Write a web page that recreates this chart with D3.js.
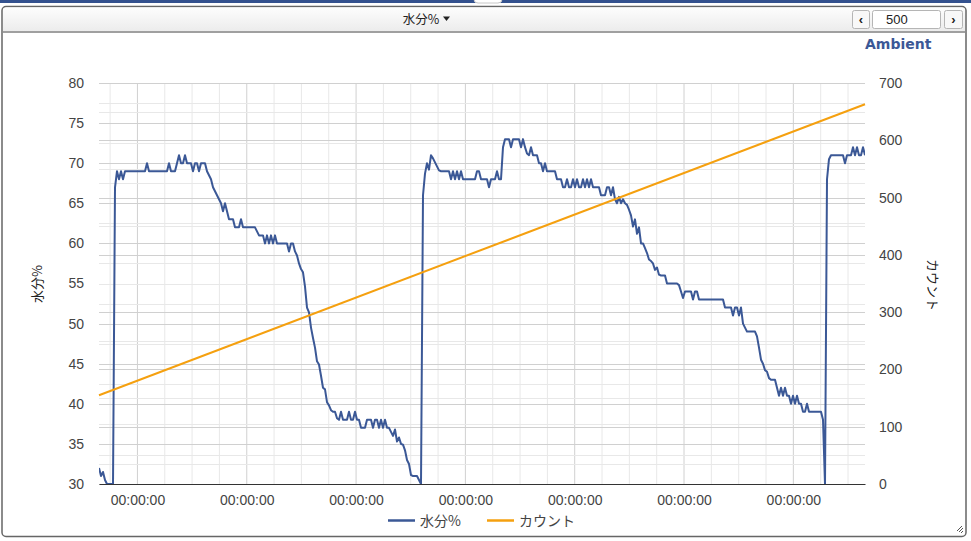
<!DOCTYPE html>
<html><head><meta charset="utf-8">
<script src="https://cdn.jsdelivr.net/npm/d3@7"></script>
<style>
body{margin:0;background:#fff;}
svg{display:block;font-family:"Liberation Sans",Arial,sans-serif;}
</style></head><body>
<svg id="c" width="971" height="541"></svg>
<script>
// ---------- data ----------
const headerTitle = "水分%";
const pageSize = "500";
const panelLabel = "Ambient";
const leftAxisTitle = "水分%";
const rightAxisTitle = "カウント";
const seriesNames = ["水分%", "カウント"];
const xTickLabels = ["00:00:00","00:00:00","00:00:00","00:00:00","00:00:00","00:00:00","00:00:00"];
const leftTicks = [30,35,40,45,50,55,60,65,70,75,80];
const rightTicks = [0,100,200,300,400,500,600,700];
// count series: first and last sample
const countValues = [155, 663];
// moisture series, one value per sample
const moisture = [
 32,31,31.5,30.5,30,30,30,30,
 67,69,68,69,68,69,
 69,69,69,69,69,69,69,69,69,69,
 70,
 69,69,69,69,69,69,69,69,69,69,
 70,
 69,69,69,
 70,71,70,70,71,70,70,70,69,70,70,69,70,70,70,
 69,68.5,68,67,66.5,66,65.5,65,64,65,64,63,63,63,62,
 62,62,63,62,62,62,62,62,62,
 62,61.5,61,61,61,60,61,60,61,60,61,60,60,60,60,60,60,
 59,60,60,59,58.5,57.5,56.8,56.4,54.6,52,51.4,49.5,48.2,47,45.3,44.9,43.5,42,41.8,40.2,39.8,39.2,39,39,
 38.2,38,39,38,38,38,39,38,38,39,38,38,37,37,37,38,38,38,37,38,38,37,38,37,38,37,37,
 36.5,36,36.8,35.3,35.8,35,34.9,34.2,33,32.5,31.1,31,31,31,30.5,30,
 66,68.7,70,69.2,71,70.6,70.1,69.6,69.1,69,
 69,69,69,69,
 68,69,68,69,68,69,68,
 68,68,68,68,68,68,
 69,69,
 68,68,68,
 68,67,68,68,68,69,68,68,
 72,73,73,73,72,73,73,73,73,72,73,72,
 71.2,71,72,71,71,71,70,70,69,70,69,69,69,69,69,68,68,68,
 67,67,68,67,67,68,67,68,67,67,68,67,68,67,68,67,67,67,67,
 66,66,66,67,67,66,67,65.5,65,65.8,65,65.5,65,64.8,64.2,63.5,
 62.1,63,61.2,62,60,60,59.4,58.8,58,57.8,57.5,56.7,57,56.1,56,56,56,
 55,55,55,55,55,55,54.8,54,53.2,54,54,54,54,
 53,54,54,53,53,53,53,53,53,53,53,53,53,53,53,53,
 52,52,52,52,51,52,52,51,52,
 50,49.5,49,49,49,49,49,48.4,47,45.5,45,44.2,44,43.2,43,43,43,
 42,41,42,41,42,41,41,
 40,41,40,41,40,40,
 39,39,40,39,39,39,39,39,39,39,
 38,30,68,70.5,71,71,71,71,71,71,71,70,71,71,71,72,71,72,71,71,72,71
];

// ---------- layout ----------
const W = 971, H = 541;
const plot = {left: 99, right: 865, top: 83, bottom: 484};
const colors = {blue: "#3b5896", orange: "#f5a00f", text: "#444", grid: "#d0d0d0", gridMinor: "#e8e8e8"};

const svg = d3.select("#c");
const n = moisture.length;
const x = d3.scaleLinear().domain([0, n - 1]).range([plot.left, plot.right]);
const yL = d3.scaleLinear().domain([30, 80]).range([plot.bottom, plot.top]);
const yR = d3.scaleLinear().domain([0, 700]).range([plot.bottom, plot.top]);

// page top bar
svg.append("rect").attr("x",0).attr("y",0).attr("width",W).attr("height",3).attr("fill","#34528f");
svg.append("rect").attr("x",474).attr("y",-4).attr("width",28).attr("height",7).attr("rx",4).attr("fill","#fff").attr("stroke","#c8c8c8");

// panel
svg.append("rect").attr("x",2).attr("y",6.5).attr("width",964).attr("height",530).attr("rx",4)
  .attr("fill","#fff").attr("stroke","#666").attr("stroke-width",1.5);
// header
const hdrGrad = svg.append("defs").append("linearGradient").attr("id","hg").attr("x1",0).attr("y1",0).attr("x2",0).attr("y2",1);
hdrGrad.append("stop").attr("offset","0%").attr("stop-color","#fdfdfd");
hdrGrad.append("stop").attr("offset","100%").attr("stop-color","#ececec");
svg.append("path").attr("d","M3,31 L3,11 Q3,7.5 6.5,7.5 L961.5,7.5 Q965,7.5 965,11 L965,31 Z").attr("fill","url(#hg)");
svg.append("rect").attr("x",3).attr("y",31).attr("width",962).attr("height",2).attr("fill","#a0a0a0");
svg.append("text").attr("x",421).attr("y",24).attr("text-anchor","middle")
  .attr("font-family","'Noto Sans CJK JP',sans-serif").attr("font-size",12.5).attr("fill","#222").text(headerTitle);
svg.append("path").attr("d","M443,16.5 L450,16.5 L446.5,21 Z").attr("fill","#222");
// pager controls
function btn(x0, w, arrow){
  svg.append("rect").attr("x",x0+0.5).attr("y",10.5).attr("width",w).attr("height",18).attr("rx",2)
    .attr("fill","#f8f8f8").attr("stroke","#b5b5b5");
  svg.append("text").attr("x",x0+w/2+0.5).attr("y",24).attr("text-anchor","middle")
    .attr("font-size",13).attr("font-weight","bold").attr("fill","#222").text(arrow);
}
btn(852, 17, "‹");
btn(944, 18, "›");
svg.append("rect").attr("x",872.5).attr("y",10.5).attr("width",68).attr("height",18).attr("rx",2)
  .attr("fill","#fff").attr("stroke","#b5b5b5");
svg.append("text").attr("x",886).attr("y",24).attr("font-size",13).attr("fill","#222").text(pageSize);

// Ambient
svg.append("text").attr("x",865).attr("y",49).attr("font-family","'DejaVu Sans',sans-serif")
  .attr("font-weight","bold").attr("font-size",14).attr("fill","#3b5896").text(panelLabel);

// ---------- grid ----------
const g = svg.append("g");
// vertical grid: every quarter of the label interval
const xStepPx = 27.33, xFirstPx = 110.1;
const xGrid = d3.range(0, 28).map(k => x.invert(xFirstPx + k * xStepPx));
xGrid.forEach((v, k) => {
  g.append("line").attr("x1", x(v)).attr("x2", x(v)).attr("y1", plot.top).attr("y2", plot.bottom)
    .attr("stroke", k % 4 === 1 ? colors.grid : colors.gridMinor).attr("stroke-width",1);
});
// horizontal grid: left axis (every 2.5) and right axis (every 50)
d3.range(30, 80.01, 2.5).forEach(v => {
  const yy = Math.round(yL(v)) + 0.5;
  g.append("line").attr("x1",plot.left).attr("x2",plot.right).attr("y1",yy).attr("y2",yy)
    .attr("stroke", v % 5 === 0 ? colors.grid : colors.gridMinor);
});
d3.range(0, 700.01, 50).forEach(v => {
  const yy = Math.round(yR(v)) + 0.5;
  g.append("line").attr("x1",plot.left).attr("x2",plot.right).attr("y1",yy).attr("y2",yy)
    .attr("stroke", v % 100 === 0 ? colors.grid : colors.gridMinor);
});

// ---------- axes ----------
const axL = svg.append("g").attr("transform",`translate(${plot.left},0)`)
  .call(d3.axisLeft(yL).tickValues(leftTicks).tickSize(0).tickPadding(15));
const axR = svg.append("g").attr("transform",`translate(${plot.right},0)`)
  .call(d3.axisRight(yR).tickValues(rightTicks).tickSize(0).tickPadding(14));
const majorX = xGrid.filter((d,k) => k % 4 === 1);
const axB = svg.append("g").attr("transform",`translate(0,${plot.bottom})`)
  .call(d3.axisBottom(x).tickValues(majorX).tickFormat((d,i) => xTickLabels[i]).tickSize(0).tickPadding(11));
[axL, axR, axB].forEach(a => {
  a.selectAll("text").attr("font-size",14).attr("fill",colors.text).attr("font-family","'Liberation Sans',Arial,sans-serif");
});
axL.select(".domain").remove();
axR.select(".domain").remove();
axB.select(".domain").attr("stroke","#333").attr("stroke-width",1.2);

// axis titles
svg.append("text").attr("transform","translate(42,284) rotate(-90)").attr("text-anchor","middle")
  .attr("font-family","'Noto Sans CJK JP',sans-serif").attr("font-size",13).attr("fill","#222").text(leftAxisTitle);
svg.append("text").attr("transform","translate(928,285) rotate(90)").attr("text-anchor","middle")
  .attr("font-family","'Noto Sans CJK JP',sans-serif").attr("font-size",13).attr("fill","#222").text(rightAxisTitle);

// ---------- series ----------
const clip = svg.append("defs").append("clipPath").attr("id","pc");
clip.append("rect").attr("x",plot.left).attr("y",plot.top-2).attr("width",plot.right-plot.left).attr("height",plot.bottom-plot.top+2);
const lineM = d3.line().x((d,i) => x(i)).y(d => yL(d));
svg.append("path").datum(moisture).attr("d", lineM).attr("fill","none")
  .attr("stroke", colors.blue).attr("stroke-width",2).attr("stroke-linejoin","round").attr("clip-path","url(#pc)");
const countPts = [[0, countValues[0]], [n - 1, countValues[1]]];
svg.append("path").datum(countPts).attr("d", d3.line().x(d => x(d[0])).y(d => yR(d[1])))
  .attr("fill","none").attr("stroke", colors.orange).attr("stroke-width",2);

// ---------- legend ----------
const lg = [{name: seriesNames[0], c: colors.blue, x0: 388}, {name: seriesNames[1], c: colors.orange, x0: 487}];
lg.forEach(d => {
  svg.append("line").attr("x1",d.x0).attr("x2",d.x0+27).attr("y1",520.5).attr("y2",520.5).attr("stroke",d.c).attr("stroke-width",2.5);
  svg.append("text").attr("x",d.x0+32).attr("y",526).attr("font-family","'Noto Sans CJK JP',sans-serif")
    .attr("font-size",14).attr("fill",colors.text).text(d.name);
});

// resize grip
[[957,531,962,526],[959,532,963,528],[961,533,963,531]].forEach(p => {
  svg.append("line").attr("x1",p[0]).attr("y1",p[1]).attr("x2",p[2]).attr("y2",p[3]).attr("stroke","#555").attr("stroke-width",1);
});
</script>
</body></html>
